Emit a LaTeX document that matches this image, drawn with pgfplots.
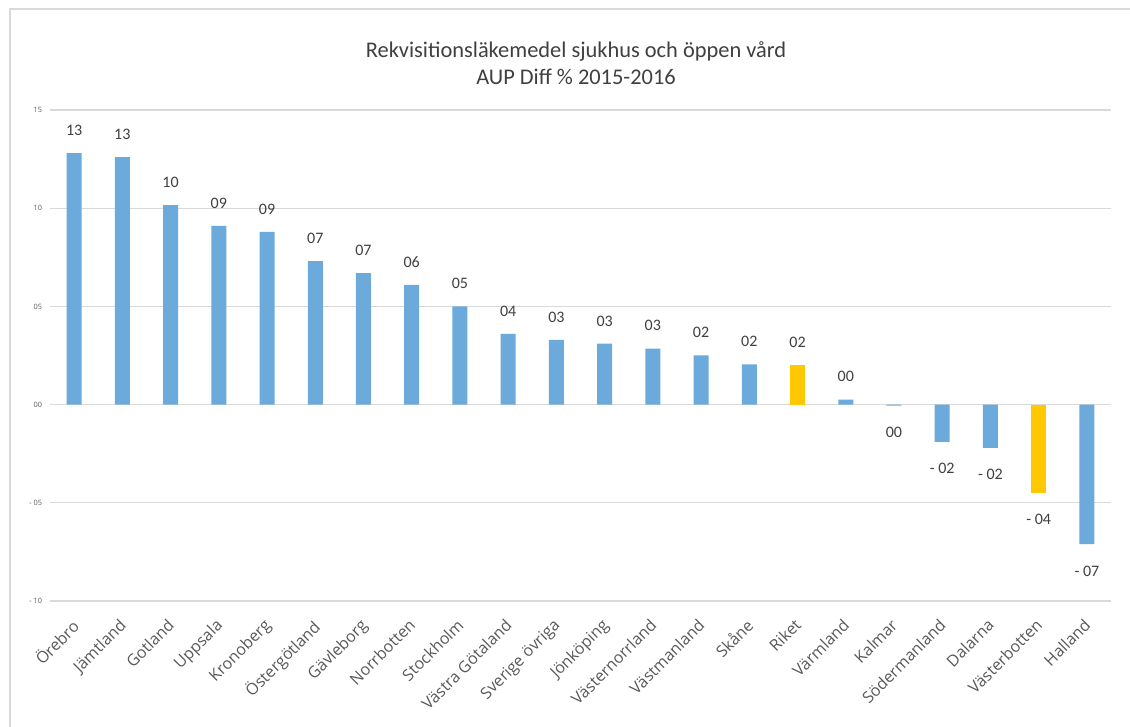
\documentclass[border=0pt]{standalone}
\usepackage{pgfplots}
\pgfplotsset{compat=1.18}
\usepackage{fontspec}
\setmainfont{Carlito}
\newfontfamily\osans{Open Sans}
\definecolor{barblue}{RGB}{108,170,220}
\definecolor{baryel}{RGB}{255,200,0}
\definecolor{gridc}{RGB}{217,217,217}
\definecolor{txt}{RGB}{64,64,64}
\definecolor{tickc}{RGB}{89,89,89}
\begin{document}
\begin{tikzpicture}
\useasboundingbox (0,0) rectangle (847.5pt,545.25pt);
\fill[white] (0,0) rectangle (847.5pt,545.25pt);
\draw[gridc, line width=1pt] (7.5pt,0) -- (7.5pt,538.5pt) -- (847.5pt,538.5pt);
\node[align=center, font=\fontsize{16.8}{20.25}\selectfont, text=txt] at (432pt,497.6pt) {Rekvisitionsläkemedel sjukhus och öppen vård\\AUP Diff \% 2015-2016};
\begin{axis}[
 at={(37.5pt,94.5pt)}, anchor=south west,
 scale only axis, width=795.75pt, height=368.25pt,
 xmin=-0.5, xmax=21.5, ymin=-10, ymax=15,
 ybar, bar width=11.25pt,
 axis line style={draw=none},
 major tick length=0pt,
 ytick={-10,-5,0,5,10,15},
 yticklabels={- 10,- 05,00,05,10,15},
 yticklabel style={font=\osans\fontsize{5.5}{7}\selectfont, text=tickc, xshift=-2.5pt},
 ymajorgrids, grid style={gridc, line width=0.9pt},
 xtick={0,...,21},
 xticklabels={Örebro,Jämtland,Gotland,Uppsala,Kronoberg,Östergötland,Gävleborg,Norrbotten,Stockholm,Västra Götaland,Sverige övriga,Jönköping,Västernorrland,Västmanland,Skåne,Riket,Värmland,Kalmar,Södermanland,Dalarna,Västerbotten,Halland},
 xticklabel style={xshift=-3pt, yshift=-12.5pt, rotate=45, anchor=north east, inner sep=0pt, font=\osans\fontsize{12}{14}\selectfont, text=tickc},
 point meta=explicit symbolic,
 nodes near coords,
 every node near coord/.append style={font=\fontsize{12}{14}\selectfont, text=txt, inner sep=0pt},
]
\addplot[fill=barblue, draw=none, bar shift=0pt, every node near coord/.append style={anchor=south, yshift=13pt}] table[x=x, y=y, meta=lab, col sep=comma] {
x,y,lab
0,12.8,13
1,12.6,13
2,10.15,10
3,9.1,09
4,8.8,09
5,7.3,07
6,6.7,07
7,6.1,06
8,5.0,05
9,3.6,04
10,3.3,03
11,3.1,03
12,2.85,03
13,2.5,02
14,2.05,02
16,0.25,00
};
\addplot[fill=barblue, draw=none, bar shift=0pt, every node near coord/.append style={anchor=north, yshift=-16pt}] table[x=x, y=y, meta=lab, col sep=comma] {
x,y,lab
17,-0.05,00
18,-1.9,- 02
19,-2.2,- 02
21,-7.1,- 07
};
\addplot[fill=baryel, draw=none, bar shift=0pt, every node near coord/.append style={anchor=south, yshift=13pt}] table[x=x, y=y, meta=lab, col sep=comma] {
x,y,lab
15,2.0,02
};
\addplot[fill=baryel, draw=none, bar shift=0pt, every node near coord/.append style={anchor=north, yshift=-16pt}] table[x=x, y=y, meta=lab, col sep=comma] {
x,y,lab
20,-4.5,- 04
};
\end{axis}
\end{tikzpicture}
\end{document}
